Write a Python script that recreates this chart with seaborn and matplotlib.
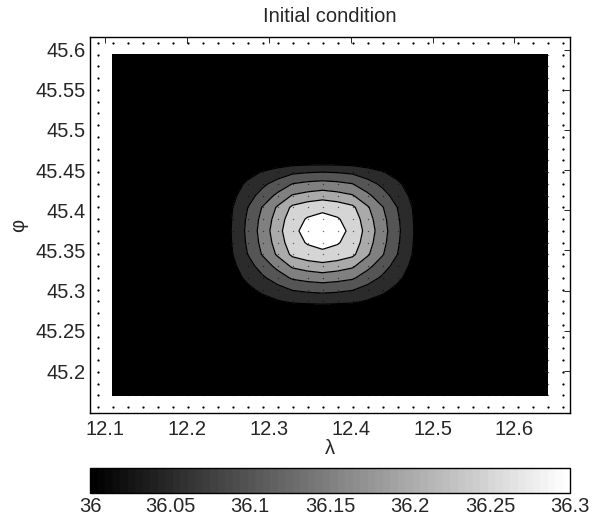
import numpy as np
import pandas as pd
import seaborn as sns
import matplotlib
matplotlib.use('Agg')
import matplotlib.pyplot as plt
from matplotlib.colors import Normalize
from matplotlib.cm import ScalarMappable

# Grid of the model (32 x 32 nodes), outer ring of nodes is boundary (no data)
n_lon, n_lat = 32, 32
lon_first, lon_step = 12.0904, 0.01834
lat_top, lat_step = 45.6083, 0.01462
background = 36.0

# position of the bump (row counted from the top, column from the left)
peak_row, peak_col = 16, 15

# bump above background, in hundredths, rows north -> south, cols west -> east
bump = [
    [0, 0.0, 0.0, 0.0, 0.0, 0.0, 0.0, 0.0, 0.0, 0.0, 0.0, 0.0, 0.0, 0.0, 0],
    [0, 0.3, 0.7, 1.0, 1.4, 1.7, 1.9, 1.9, 1.9, 1.7, 1.4, 1.0, 0.7, 0.3, 0],
    [0, 1.7, 3.4, 5.3, 7.1, 9.0, 9.7, 10.0, 9.7, 9.0, 7.1, 5.3, 3.4, 1.7, 0],
    [0, 2.9, 5.8, 8.9, 12.0, 15.1, 16.2, 16.8, 16.2, 15.1, 12.0, 8.9, 5.8, 2.9, 0],
    [0, 3.9, 7.8, 12.0, 16.1, 20.4, 21.8, 22.7, 21.8, 20.4, 16.1, 12.0, 7.8, 3.9, 0],
    [0, 4.9, 9.9, 15.3, 20.6, 26.0, 27.9, 29.0, 27.9, 26.0, 20.6, 15.3, 9.9, 4.9, 0],
    [0, 5.3, 10.7, 16.5, 22.1, 28.0, 30.4, 31.2, 30.4, 28.0, 22.1, 16.5, 10.7, 5.3, 0],
    [0, 5.5, 11.1, 17.1, 23.0, 29.1, 31.2, 32.4, 31.2, 29.1, 23.0, 17.1, 11.1, 5.5, 0],
    [0, 5.3, 10.7, 16.5, 22.1, 28.0, 30.4, 31.2, 30.4, 28.0, 22.1, 16.5, 10.7, 5.3, 0],
    [0, 4.9, 10.0, 15.4, 20.7, 26.1, 28.0, 29.1, 28.0, 26.1, 20.7, 15.4, 10.0, 4.9, 0],
    [0, 3.9, 7.9, 12.2, 16.4, 20.8, 22.3, 23.2, 22.3, 20.8, 16.4, 12.2, 7.9, 3.9, 0],
    [0, 3.0, 6.0, 9.2, 12.4, 15.7, 16.8, 17.5, 16.8, 15.7, 12.4, 9.2, 6.0, 3.0, 0],
    [0, 2.0, 3.9, 6.1, 8.2, 10.3, 11.1, 11.5, 11.1, 10.3, 8.2, 6.1, 3.9, 2.0, 0],
    [0, 1.1, 2.2, 3.4, 4.6, 5.8, 6.2, 6.5, 6.2, 5.8, 4.6, 3.4, 2.2, 1.1, 0],
    [0, 0.1, 0.1, 0.2, 0.2, 0.3, 0.3, 0.3, 0.3, 0.3, 0.2, 0.2, 0.1, 0.1, 0],
]

levels = [36.0, 36.05, 36.1, 36.15, 36.2, 36.25, 36.3, 36.35]
cbar_ticks = [36, 36.05, 36.1, 36.15, 36.2, 36.25, 36.3]
x_ticks = [12.1, 12.2, 12.3, 12.4, 12.5, 12.6]
y_ticks = [45.2, 45.25, 45.3, 45.35, 45.4, 45.45, 45.5, 45.55, 45.6]

# build the field
lon = lon_first + lon_step * np.arange(n_lon)
lat = lat_top - lat_step * np.arange(n_lat)
Z = np.full((n_lat, n_lon), background)
half = len(bump) // 2
Z[peak_row - half:peak_row + half + 1, peak_col - half:peak_col + half + 1] += np.array(bump) / 100
Z[0, :] = np.nan
Z[-1, :] = np.nan
Z[:, 0] = np.nan
Z[:, -1] = np.nan

LON, LAT = np.meshgrid(lon, lat)
pts = pd.DataFrame({'lon': LON.ravel(), 'lat': LAT.ravel(),
                    'ring': np.isnan(Z).ravel()})

sns.set_style('white')
plt.rcParams['font.family'] = ['Liberation Sans', 'DejaVu Sans']
fs = 14.5

W, H = 593, 527
fig = plt.figure(figsize=(W / 100, H / 100), dpi=100)
ax = fig.add_axes([90 / W, (H - 413) / H, 480 / W, 376 / H])

# MATLAB-like band colours: each band takes the grey of its lower level
band_colors = [str(k / 6) for k in range(7)]
ax.contourf(lon, lat[::-1], Z[::-1], levels=levels, colors=band_colors, antialiased=False)
ax.contour(lon, lat[::-1], Z[::-1], levels=levels[1:-1], colors='k', linewidths=0.9)

# grid nodes: sea nodes tiny and dark, boundary nodes black
sns.scatterplot(data=pts[~pts['ring']], x='lon', y='lat', color='k', alpha=0.55,
                s=1.0, linewidth=0, ax=ax, legend=False)
sns.scatterplot(data=pts[pts['ring']], x='lon', y='lat', color='k', s=2.6,
                linewidth=0, ax=ax, legend=False)

ax.set_xlim(lon[0] - lon_step / 2, lon[-1] + lon_step / 2)
ax.set_ylim(lat[-1] - lat_step / 2, lat[0] + lat_step / 2)
ax.set_xticks(x_ticks)
ax.set_yticks(y_ticks)
ax.set_xticklabels(['%g' % v for v in x_ticks])
ax.set_yticklabels(['%g' % v for v in y_ticks])
ax.tick_params(direction='in', top=True, right=True, length=4, width=0.6,
               labelsize=fs, color='k')
ax.tick_params(axis='x', pad=5)
ax.tick_params(axis='y', pad=3)
for s in ax.spines.values():
    s.set_color('k')
    s.set_linewidth(1.0)
ax.set_xlabel('λ', fontsize=fs, labelpad=0)
ax.set_ylabel('φ', fontsize=fs, labelpad=5)
ax.set_title('Initial condition', fontsize=fs, pad=11)

# colorbar
cax = fig.add_axes([90 / W, (H - 493) / H, 480 / W, 25 / H])
sm = ScalarMappable(norm=Normalize(36, 36.3), cmap=plt.get_cmap('gray', 64))
cb = fig.colorbar(sm, cax=cax, orientation='horizontal', ticks=cbar_ticks)
cb.ax.set_xticklabels(['%g' % v for v in cbar_ticks])
cb.ax.tick_params(direction='in', top=True, length=4, width=0.6, labelsize=fs,
                  pad=3, color='0.3')
cb.outline.set_linewidth(1.0)
cb.outline.set_edgecolor('k')

fig.savefig('out.png', dpi=100, facecolor='white')
